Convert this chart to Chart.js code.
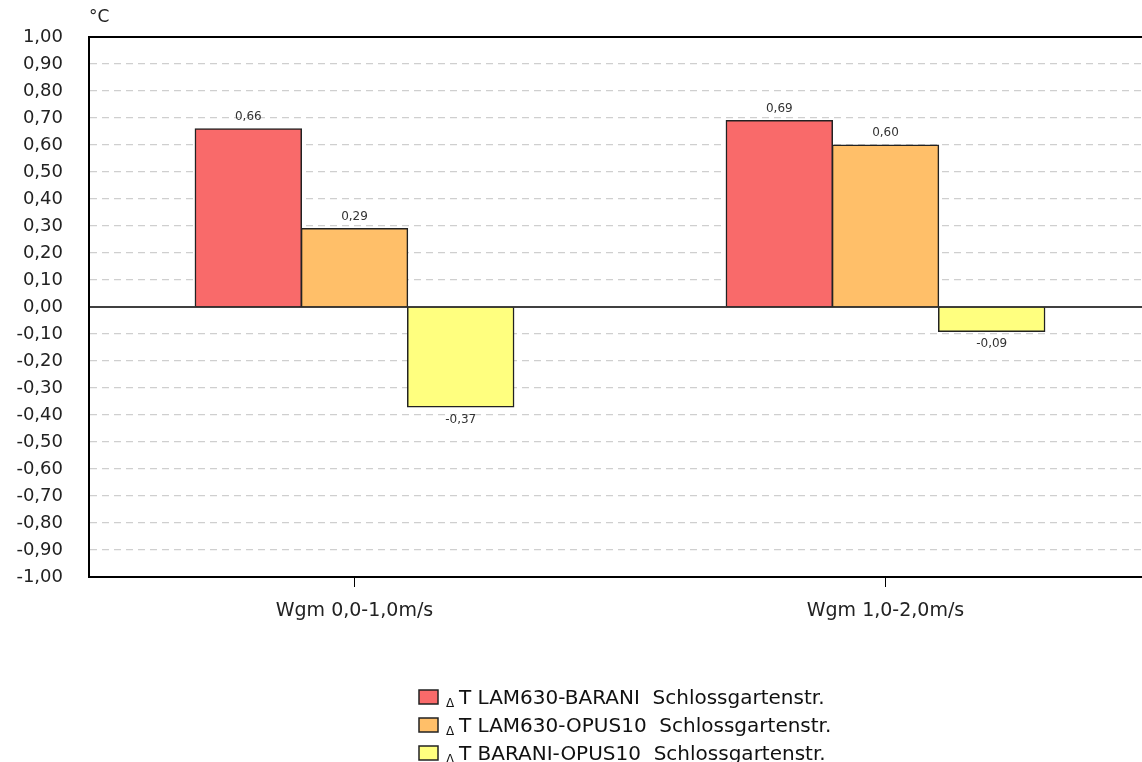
<!DOCTYPE html>
<html>
<head>
<meta charset="utf-8">
<script src="https://cdn.jsdelivr.net/npm/chart.js@4/dist/chart.umd.min.js"></script>
<style>
  html, body { margin:0; padding:0; background:#fff; overflow:hidden; }
  #wrap { width:1160px; height:762px; }
</style>
</head>
<body>
<div id="wrap"><canvas id="c" width="1160" height="762"></canvas></div>
<script>
const categories = ['Wgm 0,0-1,0m/s', 'Wgm 1,0-2,0m/s'];
const seriesNames = ['LAM630-BARANI  Schlossgartenstr.', 'LAM630-OPUS10  Schlossgartenstr.', 'BARANI-OPUS10  Schlossgartenstr.'];
const lamBarani = [0.66, 0.69];
const lamOpus = [0.29, 0.60];
const baraniOpus = [-0.37, -0.09];
const colors = ['#f96a6a', '#ffbf69', '#ffff7f'];

const FONT = '"DejaVu Sans", sans-serif';
const fmt = v => v.toFixed(2).replace('.', ',');

// frame top line, zero line, value labels, legend, unit
const extras = {
  id: 'extras',
  afterDatasetsDraw(chart){
    const ctx = chart.ctx, a = chart.chartArea, y = chart.scales.y;
    ctx.save();
    // zero line
    const y0 = y.getPixelForValue(0);
    ctx.strokeStyle = '#000'; ctx.lineWidth = 1.5;
    ctx.beginPath(); ctx.moveTo(a.left, y0); ctx.lineTo(a.right, y0); ctx.stroke();
    // top border
    ctx.lineWidth = 2;
    ctx.beginPath(); ctx.moveTo(a.left - 1, a.top); ctx.lineTo(a.right, a.top); ctx.stroke();

    // value labels
    ctx.font = '12px ' + FONT; ctx.fillStyle = '#333'; ctx.textAlign = 'center';
    chart.data.datasets.forEach((ds, i) => {
      chart.getDatasetMeta(i).data.forEach((bar, j) => {
        const v = ds.data[j];
        if (v >= 0) { ctx.textBaseline = 'bottom'; ctx.fillText(fmt(v), bar.x, bar.y - 6); }
        else { ctx.textBaseline = 'top'; ctx.fillText(fmt(v), bar.x, bar.y + 7); }
      });
    });

    // unit
    ctx.font = '17px ' + FONT; ctx.fillStyle = '#222'; ctx.textAlign = 'left'; ctx.textBaseline = 'middle';
    ctx.fillText('°C', 89, 18);

    // legend
    chart.data.datasets.forEach((ds, i) => {
      const cy = 697 + i * 28;
      ctx.fillStyle = ds.backgroundColor; ctx.strokeStyle = '#222'; ctx.lineWidth = 1.5;
      ctx.fillRect(419, cy - 7, 19, 14); ctx.strokeRect(419, cy - 7, 19, 14);
      ctx.fillStyle = '#111'; ctx.textBaseline = 'alphabetic';
      ctx.font = '12px ' + FONT;
      ctx.fillText('Δ', 446, cy + 10);
      ctx.font = '20px ' + FONT;
      ctx.fillText('T ' + seriesNames[i], 459, cy + 7);
    });
    ctx.restore();
  }
};

new Chart(document.getElementById('c'), {
  type: 'bar',
  data: {
    labels: categories,
    datasets: [lamBarani, lamOpus, baraniOpus].map((d, i) => ({
      label: 'ΔT ' + seriesNames[i],
      data: d,
      backgroundColor: colors[i],
      borderColor: '#222',
      borderWidth: 1.5,
      inflateAmount: 0.6,
      categoryPercentage: 0.6,
      barPercentage: 1.0
    }))
  },
  options: {
    responsive: false,
    animation: false,
    layout: { padding: { top: 37, right: 9, left: 0, bottom: 125 } },
    plugins: { legend: { display: false }, tooltip: { enabled: false } },
    scales: {
      x: {
        offset: true,
        afterFit: s => { s.height = 60; },
        grid: { offset: false, drawOnChartArea: false, drawTicks: true, tickLength: 10, tickColor: '#000', tickWidth: 1 },
        border: { color: '#000', width: 2 },
        ticks: { color: '#222', font: { family: FONT, size: 19 }, padding: 13 }
      },
      y: {
        min: -1, max: 1,
        afterFit: s => { s.width = 89; },
        ticks: { stepSize: 0.1, color: '#222', font: { family: FONT, size: 18 }, padding: 26, callback: v => fmt(v) },
        grid: {
          drawTicks: false,
          color: c => (Math.abs(c.tick.value) < 1e-9 || Math.abs(Math.abs(c.tick.value) - 1) < 1e-9) ? 'rgba(0,0,0,0)' : '#cfcfcf',
          lineWidth: 1.2
        },
        border: { color: '#000', width: 2, dash: [7, 5] }
      }
    }
  },
  plugins: [extras]
});
</script>
</body>
</html>
